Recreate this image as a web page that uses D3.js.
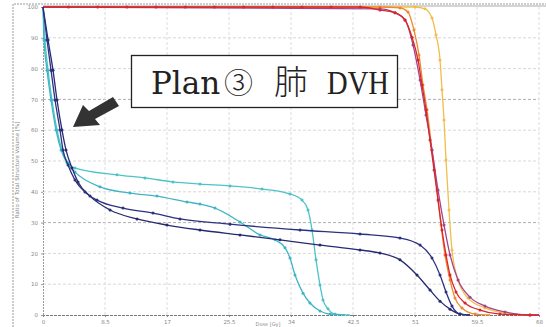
<!DOCTYPE html>
<html>
<head>
<meta charset="utf-8">
<script src="https://cdn.jsdelivr.net/npm/d3@7"></script>
<style>
  body { margin: 0; background: #fff; }
  svg { display: block; }
</style>
</head>
<body>
<div id="wrapper"></div>
<script>
// dose [Gy] / volume [%] pairs
const xTicks = [0, 8.5, 17, 25.5, 34, 42.5, 51, 59.5, 68];
const xTickLabels = ["0", "8.5", "17", "25.5", "34", "42.5", "51", "59.5", "68"];
const yTicks = [0, 10, 20, 30, 40, 50, 60, 70, 80, 90, 100];
const titleParts = ["Plan", "③", "肺", "DVH"];

const lungNavyA = [[0,100],[0.55,89.3],[1.10,79.5],[1.65,69.8],[2.33,60.1],[2.74,53.6],[3.43,48.7],[4.39,43.8],[5.76,39.9],[7.40,37.3],[10.97,34.7],[15.08,33.1],[18.78,31.2],[25.64,29.5],[35.23,27.6],[43.46,26.3],[48.94,25.0],[51.69,22.7],[53.33,18.5],[54.43,13.0],[55.25,7.5],[56.07,2.9],[57.17,0.3],[58.54,0]];
const lungNavyB = [[0,100],[0.69,89.3],[1.37,79.5],[1.92,69.8],[2.60,60.1],[3.15,53.6],[3.98,47.7],[4.80,43.2],[6.44,38.6],[9.19,34.1],[12.89,31.2],[17.0,29.2],[21.52,27.6],[27.01,26.0],[32.49,24.4],[37.98,22.7],[43.46,21.1],[46.20,20.1],[48.94,17.9],[51.27,13.0],[53.06,8.1],[54.43,4.5],[55.80,1.9],[57.17,0.3],[58.54,0]];
const lungCyanA = [[0,100],[0.27,89.3],[0.69,79.5],[1.23,69.8],[1.92,60.1],[2.60,53.6],[3.43,49.4],[4.39,47.7],[10.15,45.5],[13.98,44.5],[17.82,43.2],[21.52,42.5],[25.64,41.9],[30.02,40.9],[33.86,39.3],[35.51,37.3],[36.33,34.1],[36.88,27.6],[37.43,17.9],[37.98,9.7],[38.39,4.9],[39.07,2.0],[40.03,0.3],[42.09,0]];
const lungCyanB = [[0,100],[0.14,89.3],[0.55,79.5],[1.10,69.8],[1.78,60.1],[2.47,53.6],[3.29,49.4],[4.39,46.4],[7.81,41.6],[11.93,39.6],[15.63,38.6],[19.74,36.7],[21.52,36.0],[23.58,34.7],[27.01,30.2],[29.75,26.0],[31.81,24.4],[33.18,21.8],[33.86,18.5],[34.55,13.0],[35.65,7.1],[36.60,3.9],[37.98,1.3],[39.35,0.3],[41.40,0]];

const targetRed = [[0,100],[3.5,100],[7.5,100],[11.5,100],[15.5,100],[19.5,100],[23.5,100],[27.5,100],[31.5,100],[35.5,100],[39.5,100],[43.5,100],[46.20,99.0],[48.26,98.1],[49.63,95.8],[50.59,90.2],[51.41,82.8],[51.96,74.7],[52.51,66.6],[53.06,56.8],[53.61,47.1],[54.15,37.3],[54.70,27.6],[55.25,19.5],[55.80,13.0],[56.62,7.5],[57.86,3.9],[59.91,1.6],[62.65,0.3],[66.77,0],[68,0]];
const targetPurple = [[0,100],[46.20,99.4],[48.26,98.1],[49.63,95.8],[50.73,87.7],[51.69,76.3],[52.51,64.9],[53.33,53.6],[54.15,40.6],[54.98,29.2],[55.80,19.5],[56.90,11.4],[58.54,5.8],[60.60,2.9],[63.34,1.0],[66.77,0],[68,0]];
const targetOrange = [[0,100],[46.20,100],[48.94,99.7],[50.04,98.4],[50.86,92.5],[51.55,84.4],[52.10,74.7],[52.65,66.6],[53.33,53.6],[54.02,40.6],[54.57,29.2],[55.11,19.5],[55.80,11.4],[56.48,5.5],[57.44,2.3],[59.23,0.3],[61.28,0]];
const targetYellow = [[0,100],[51.0,100],[52.37,99.4],[53.33,96.4],[53.88,90.9],[54.43,82.8],[54.70,73.1],[54.98,63.3],[55.25,50.3],[55.66,34.1],[56.07,21.1],[56.90,11.4],[58.27,5.5],[60.60,2.3],[63.34,0.6],[66.77,0]];

const series = [
  {name: "yellow", pts: targetYellow, color: "#f2bd4a"},
  {name: "orange", pts: targetOrange, color: "#ee8a2c"},
  {name: "purple", pts: targetPurple, color: "#a3458a"},
  {name: "red", pts: targetRed, color: "#d8262b"},
  {name: "cyanA", pts: lungCyanA, color: "#4cc3c9"},
  {name: "cyanB", pts: lungCyanB, color: "#3fb5c4"},
  {name: "navyB", pts: lungNavyB, color: "#262b70"},
  {name: "navyA", pts: lungNavyA, color: "#2c3182"}
];

const width = 546, height = 327;

const svg = d3.select("#wrapper").append("svg")
  .attr("width", width)
  .attr("height", height);

const x = d3.scaleLinear().domain([0, 68]).range([43, 539]);
const y = d3.scaleLinear().domain([0, 100]).range([315, 7]);

// outer frame of the screenshot
svg.append("path")
  .attr("d", `M13,${height} L13,4 L${width},4`)
  .attr("fill", "none")
  .attr("stroke", "#9a9a9a")
  .attr("stroke-width", 1)
  .attr("stroke-dasharray", "2,1");

// grid
svg.append("g").selectAll("line")
  .data(yTicks.filter(d => d > 0 && d < 100))
  .enter().append("line")
  .attr("x1", x(0)).attr("x2", x(68))
  .attr("y1", d => y(d)).attr("y2", d => y(d))
  .attr("stroke", d => (d === 70 || d === 30) ? "#b0b0b0" : "#d8d8d8")
  .attr("stroke-width", 1)
  .attr("stroke-dasharray", "3,2");

svg.append("g").selectAll("line")
  .data(xTicks.filter(d => d > 0))
  .enter().append("line")
  .attr("x1", d => x(d)).attr("x2", d => x(d))
  .attr("y1", y(0)).attr("y2", y(100))
  .attr("stroke", "#dcdcdc")
  .attr("stroke-width", 1)
  .attr("stroke-dasharray", "3,2");

// axes
const xAxis = svg.append("g")
  .attr("transform", `translate(0,${y(0)})`)
  .call(d3.axisBottom(x).tickValues(xTicks).tickFormat((d, i) => xTickLabels[i]).tickSize(2));
xAxis.select(".domain").attr("stroke", "#777").attr("stroke-dasharray", "3,1");
xAxis.selectAll("line").attr("stroke", "#888");
xAxis.selectAll("text").attr("fill", "#888").attr("font-size", 5.5).attr("font-family", "DejaVu Sans");

const yAxis = svg.append("g")
  .attr("transform", `translate(${x(0)},0)`)
  .call(d3.axisLeft(y).tickValues(yTicks).tickSize(2));
yAxis.select(".domain").attr("stroke", "#999").attr("stroke-dasharray", "2,1");
yAxis.selectAll("line").attr("stroke", "#999");
yAxis.selectAll("text").attr("fill", "#888").attr("font-size", 5.5).attr("font-family", "DejaVu Sans");

// top border of plot
svg.append("line")
  .attr("x1", x(0)).attr("x2", width)
  .attr("y1", y(100) - 1).attr("y2", y(100) - 1)
  .attr("stroke", "#aaa").attr("stroke-width", 1);

svg.append("text")
  .attr("x", 268).attr("y", 326)
  .attr("text-anchor", "middle")
  .attr("font-size", 5).attr("fill", "#888")
  .attr("font-family", "DejaVu Sans")
  .text("Dose [Gy]");

svg.append("text")
  .attr("transform", "translate(19,170) rotate(-90)")
  .attr("text-anchor", "middle")
  .attr("font-size", 5.5).attr("fill", "#888")
  .attr("font-family", "DejaVu Sans")
  .text("Ratio of Total Structure Volume [%]");

// curves
const line = d3.line()
  .x(d => x(d[0]))
  .y(d => y(d[1]))
  .curve(d3.curveMonotoneX);

const groups = svg.append("g").selectAll("g")
  .data(series)
  .enter().append("g");

groups.append("path")
  .attr("d", d => line(d.pts))
  .attr("fill", "none")
  .attr("stroke", d => d.color)
  .attr("stroke-width", 1.3);

groups.selectAll("circle")
  .data(d => d.pts.slice(1, -1).map(p => ({p: p, color: d.color})))
  .enter().append("circle")
  .attr("cx", d => x(d.p[0]))
  .attr("cy", d => y(d.p[1]))
  .attr("r", 1.5)
  .attr("fill", d => d.color);

// annotation box
svg.append("rect")
  .attr("x", 131.5).attr("y", 55.5)
  .attr("width", 266).attr("height", 52)
  .attr("fill", "#fff")
  .attr("stroke", "#222")
  .attr("stroke-width", 1.3);

const titleX = [151, 224, 274, 327];
const titleSize = [31, 29, 34, 34];
const titleFont = ["'DejaVu Serif'", "'Noto Sans CJK JP'", "'Noto Sans CJK JP'", "'Liberation Serif'"];
const titleLen = [null, null, null, 62];
svg.append("g")
  .attr("fill", "#222")
  .selectAll("text")
  .data(titleParts)
  .enter().append("text")
  .attr("x", (d, i) => titleX[i])
  .attr("y", 94)
  .attr("font-family", (d, i) => titleFont[i] + ", serif")
  .attr("font-size", (d, i) => titleSize[i])
  .attr("font-weight", (d, i) => (i === 1 || i === 2) ? 300 : null)
  .attr("textLength", (d, i) => titleLen[i])
  .attr("lengthAdjust", "spacingAndGlyphs")
  .text(d => d);

// arrow pointing at the lung curves
svg.append("path")
  .attr("d", "M73,127 L83,105 L89,111 L113,97 L119,106 L95,119 L100,125 Z")
  .attr("fill", "#333");
</script>
</body>
</html>
